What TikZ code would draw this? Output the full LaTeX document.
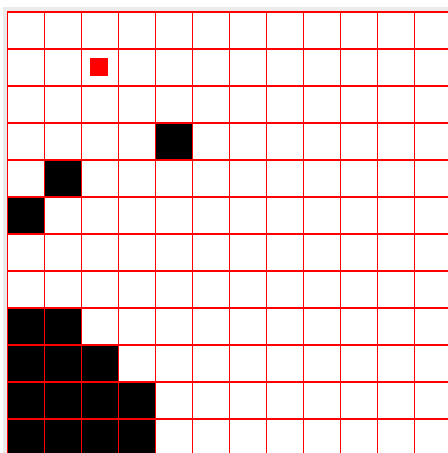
\documentclass[tikz,border=0pt]{standalone}
\usetikzlibrary{backgrounds}

\begin{document}
\begin{tikzpicture}[
  x=1cm,y=-1cm,
  wall/.style={fill=black},
  goal/.style={fill=red},
  gridln/.style={draw=red,line width=0.8pt}
]
\useasboundingbox (-0.19,-0.324) rectangle (11.892,11.919);

% ---- frame ----
\fill[black!8] (-0.108,-0.135) rectangle (12.5,12.5);
\fill[white] (0,0) rectangle (12.5,12.5);

% ---- walls ----
\foreach \c/\r in {4/3,1/4,0/5,0/8,1/8,0/9,1/9,2/9,
                   0/10,1/10,2/10,3/10,0/11,1/11,2/11,3/11} {
  \fill[wall] (\c,\r) rectangle ++(1,1);
}

% goal
\fill[goal] (2.24,1.24) rectangle (2.74,1.74);

% ---- grid ----
\foreach \i in {0,...,11} {
  \draw[gridln] (\i,0) -- (\i,12.5);
  \draw[gridln] (0,\i) -- (12.5,\i);
}

\end{tikzpicture}
\end{document}
